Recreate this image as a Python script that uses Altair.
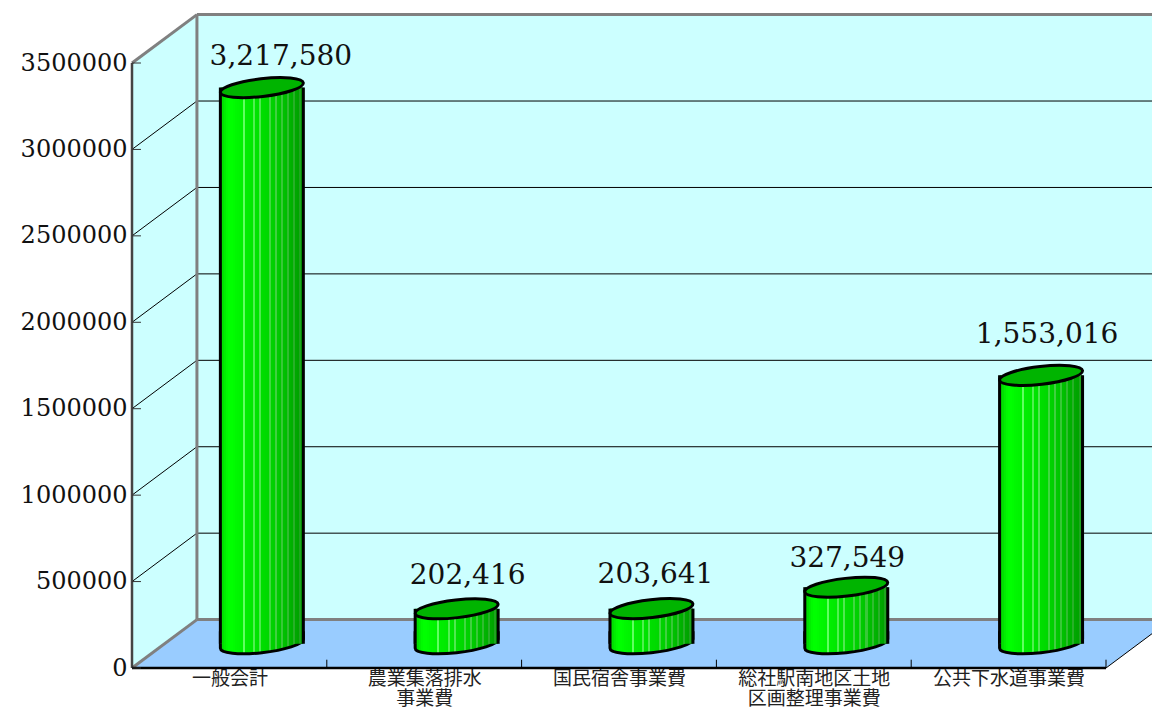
import json
import altair as alt
import pandas as pd

categories = [["一般会計"], ["農業集落排水", "事業費"], ["国民宿舎事業費"], ["総社駅南地区土地", "区画整理事業費"], ["公共下水道事業費"]]
values = [3217580, 202416, 203641, 327549, 1553016]
y_ticks = [0, 500000, 1000000, 1500000, 2000000, 2500000, 3000000, 3500000]
# label nudges for the value captions, in pixels
label_dx = [19, 11, 4, 1, 6]
label_dy = [-31, -33, -34, -28, -40]

DX, DY = 1 / 3, 280000          # depth of the 3D box in axis units
N = len(values)
HALF = 0.213                    # half cylinder width in category units
END = N + DX
TOP = y_ticks[-1]

label_expr = json.dumps(categories, ensure_ascii=False) + "[floor(datum.value)]"
x_axis = alt.Axis(values=[i + 0.5 for i in range(N)], labelExpr=label_expr, title=None, ticks=False, domain=False,
                  grid=False, labelFont="Noto Sans CJK JP", labelFontSize=19, labelColor="#222222",
                  labelPadding=1.5, labelLineHeight=20, labelOverlap=False, labelAngle=0, labelBaseline="top")
y_axis = alt.Axis(values=y_ticks, format="d", title=None, ticks=False, domain=False, grid=False,
                  labelFont="DejaVu Serif", labelFontSize=24, labelColor="#111111", labelPadding=5,
                  labelOverlap=False)

xs = alt.Scale(domain=[0, 1020 / 194.8], nice=False, zero=False)
ys = alt.Scale(domain=[0, 660 / 605 * 3500000], nice=False, zero=False)
X = lambda f="x": alt.X(f"{f}:Q", scale=xs, axis=x_axis)
Y = lambda f="y": alt.Y(f"{f}:Q", scale=ys, axis=y_axis)

colors = ["#00d400", "#00e000", "#00ee00", "#00fa00", "#00ff00", "#00ff00", "#00fc00", "#00f800",
          "#00f600", "#00f400", "#00f200", "#60ff60", "#00ee00", "#00ec00", "#00ea00", "#00e800",
          "#50f050", "#00e400", "#00e200", "#50e850", "#00de00", "#00dc00", "#00da00", "#00d800",
          "#40d840", "#00d200", "#00d000", "#40d040", "#00ca00", "#00c600", "#38c838", "#00c000",
          "#00bc00", "#30bc30", "#00b400", "#00b000", "#28b028", "#00a800", "#00a400", "#20a420", "#009c00"]
stops = []
for i, c in enumerate(colors):
    stops.append({"offset": i / len(colors), "color": c})
    stops.append({"offset": (i + 1) / len(colors), "color": c})
grad = {"gradient": "linear", "x1": 0, "x2": 1, "y1": 0, "y2": 0, "stops": stops}

CAP = "M-0.9936,0.1132 A1,0.2125,-6.5,1,1,0.9936,-0.1132 A1,0.2125,-6.5,1,1,-0.9936,0.1132 Z"
BASE = "M-0.994,-0.3 L-0.994,0.108 A1,0.2125,-6.5,1,0,0.994,-0.108 L0.994,-0.3"
ELL_SIZE = 6970


def segs(rows):
    return pd.DataFrame(rows, columns=["x", "y", "x2", "y2"])


def rules(rows, color, width):
    return alt.Chart(segs(rows)).mark_rule(color=color, strokeWidth=width).encode(
        x=X(), x2=alt.X2("x2:Q"), y=Y(), y2=alt.Y2("y2:Q"))


wall = alt.Chart(pd.DataFrame([{"x": DX, "x2": END, "y": DY, "y2": TOP + DY}])).mark_rect(fill="#ccffff").encode(
    x=X(), x2=alt.X2("x2:Q"), y=Y(), y2=alt.Y2("y2:Q"))

side = alt.Chart(pd.DataFrame({"x": [0, DX], "y": [0, DY], "y2": [TOP, TOP + DY]})).mark_area(
    fill="#ccffff", opacity=1).encode(x=X(), y=Y(), y2=alt.Y2("y2:Q"))

floor = alt.Chart(pd.DataFrame({"x": [0, DX, N, END], "y": [0, 0, 0, DY], "y2": [0, DY, DY, DY]})).mark_area(
    fill="#99ccff", opacity=1).encode(x=X(), y=Y(), y2=alt.Y2("y2:Q"))

grid_back = rules([[DX, t + DY, END, t + DY] for t in y_ticks[1:-1]], "#000000", 1)
grid_side = rules([[0, t, DX, t + DY] for t in y_ticks[1:-1]], "#000000", 1)
frame = rules([[0, TOP, DX, TOP + DY], [DX, TOP + DY, END, TOP + DY], [DX, DY, DX, TOP + DY],
               [DX, DY, END, DY], [0, 0, DX, DY]], "#808080", 3)
left_axis = rules([[0, 0, 0, TOP]], "#444444", 2.5)
bottom_axis = rules([[0, 0, N, 0]], "#000000", 2.5)
right_diag = rules([[N, 0, END, DY]], "#000000", 1)
y_tick_marks = rules([[0, t, 0.046, t] for t in y_ticks], "#333333", 1)
x_tick_marks = rules([[i, 0, i, 48000] for i in range(1, N + 1)], "#000000", 1)

rows = []
for i, v in enumerate(values):
    c = i + 0.5 + DX / 2
    rows.append({"cx": c, "l": c - HALF, "r": c + HALF, "base": DY / 2, "top": v + DY / 2, "value": v})
bars = pd.DataFrame(rows)

bottom = alt.Chart(bars).mark_point(shape=BASE, size=ELL_SIZE, filled=True, fill=grad, stroke="#000000",
                                    strokeWidth=3, opacity=1).encode(x=X("cx"), y=Y("base"))
body = alt.Chart(bars).mark_rect(fill=grad).encode(x=X("l"), x2=alt.X2("r:Q"), y=Y("base"), y2=alt.Y2("top:Q"))
edge_l = alt.Chart(bars).mark_rule(color="#000000", strokeWidth=3).encode(x=X("l"), y=Y("base"), y2=alt.Y2("top:Q"))
edge_r = alt.Chart(bars).mark_rule(color="#000000", strokeWidth=3).encode(x=X("r"), y=Y("base"), y2=alt.Y2("top:Q"))
cap = alt.Chart(bars).mark_point(shape=CAP, size=ELL_SIZE, filled=True, fill="#00b400", stroke="#000000",
                                 strokeWidth=3, opacity=1).encode(x=X("cx"), y=Y("top"))

captions = [
    alt.Chart(bars.iloc[[i]]).mark_text(font="DejaVu Serif", fontSize=28, color="#111111", dx=label_dx[i],
                                        dy=label_dy[i]).encode(
        x=X("cx"), y=Y("top"), text=alt.Text("value:Q", format=","))
    for i in range(N)
]

chart = alt.layer(
    wall, side, floor, grid_back, grid_side, frame, left_axis, bottom_axis, right_diag,
    y_tick_marks, x_tick_marks, bottom, body, edge_l, edge_r, cap, *captions
).properties(
    width=1020, height=660,
    autosize=alt.AutoSizeParams(type="none"),
    padding={"left": 124, "top": 0, "right": 0, "bottom": 43},
).configure_view(stroke=None)

chart.save("out.html", embed_options={"renderer": "svg", "actions": False})
